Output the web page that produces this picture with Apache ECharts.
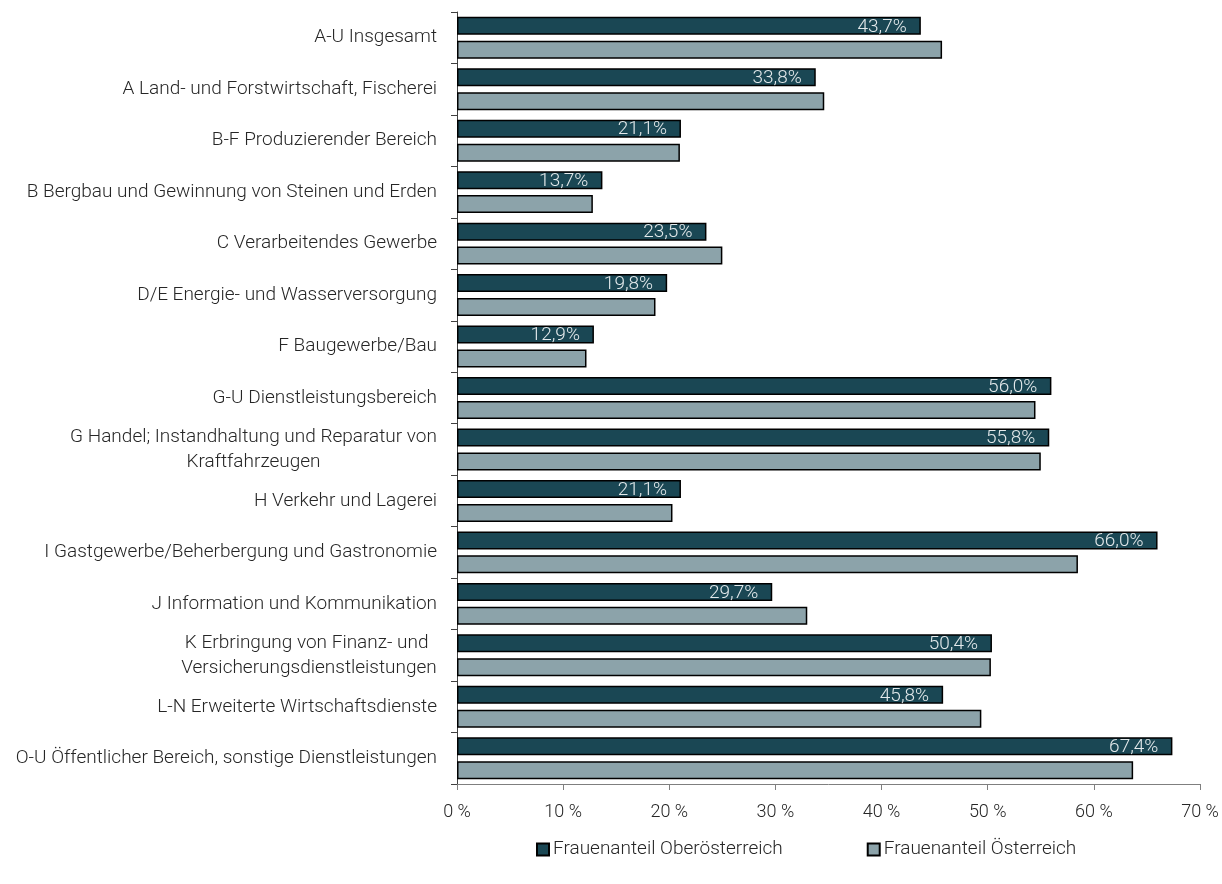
<!DOCTYPE html>
<html>
<head>
<meta charset="utf-8">
<script src="https://cdn.jsdelivr.net/npm/echarts@6/dist/echarts.min.js"></script>
<style>html,body{margin:0;padding:0;background:#fff}#c{width:1222px;height:884px}</style>
</head>
<body>
<div id="c"></div>
<script>
const categories = [
  "A-U Insgesamt",
  "A Land- und Forstwirtschaft, Fischerei",
  "B-F Produzierender Bereich",
  "B Bergbau und Gewinnung von Steinen und Erden",
  "C Verarbeitendes Gewerbe",
  "D/E Energie- und Wasserversorgung",
  "F Baugewerbe/Bau",
  "G-U Dienstleistungsbereich",
  "G Handel; Instandhaltung und Reparatur von\nKraftfahrzeugen",
  "H Verkehr und Lagerei",
  "I Gastgewerbe/Beherbergung und Gastronomie",
  "J Information und Kommunikation",
  "K Erbringung von Finanz- und \nVersicherungsdienstleistungen",
  "L-N Erweiterte Wirtschaftsdienste",
  "O-U Öffentlicher Bereich, sonstige Dienstleistungen"
];
const seriesNames = ["Frauenanteil Oberösterreich", "Frauenanteil Österreich"];
const ooeValues = [43.7, 33.8, 21.1, 13.7, 23.5, 19.8, 12.9, 56.0, 55.8, 21.1, 66.0, 29.7, 50.4, 45.8, 67.4];
const oeValues  = [45.7, 34.6, 21.0, 12.8, 25.0, 18.7, 12.2, 54.5, 55.0, 20.3, 58.5, 33.0, 50.3, 49.4, 63.7];
const xTicks = [0, 10, 20, 30, 40, 50, 60, 70];

const FONT = 'Roboto';
const FS = 19;
const TXT = '#262626';

// measure text to center multi-line category labels like the original
const ctx = document.createElement('canvas').getContext('2d');
ctx.font = '300 ' + FS + 'px ' + FONT;
function lineWidth(s) { return Math.ceil(ctx.measureText(s).width); }

const chart = echarts.init(document.getElementById('c'), null, {renderer: 'canvas'});
chart.setOption({
  animation: false,
  backgroundColor: '#ffffff',
  textStyle: {fontFamily: FONT, fontWeight: 300},
  grid: {left: 457, right: 22, top: 12, bottom: 100, containLabel: false},
  legend: {
    data: seriesNames,
    top: 835,
    left: 531,
    icon: 'rect',
    itemWidth: 12,
    itemHeight: 12,
    itemGap: 84,
    textStyle: {fontFamily: FONT, fontWeight: 300, fontSize: 19, color: TXT, padding: [0, 0, 0, -1]}
  },
  xAxis: {
    type: 'value',
    min: xTicks[0],
    max: xTicks[xTicks.length - 1],
    interval: 10,
    splitLine: {show: false},
    axisLine: {show: true, lineStyle: {color: '#7f7f7f', width: 1}},
    axisTick: {show: true, length: 6, lineStyle: {color: '#7f7f7f'}},
    axisLabel: {
      margin: 19,
      fontFamily: FONT, fontWeight: 300, fontSize: 18, color: TXT,
      formatter: v => v + ' %'
    }
  },
  yAxis: {
    type: 'category',
    data: categories,
    inverse: true,
    axisLine: {show: true, lineStyle: {color: '#404040', width: 1}},
    axisTick: {show: true, length: 6, lineStyle: {color: '#404040'}},
    axisLabel: {
      margin: 20,
      fontFamily: FONT, fontWeight: 300, fontSize: FS, color: TXT,
      lineHeight: 25,
      formatter: function (v) {
        if (v.indexOf('\n') >= 0) {
          const lines = v.split('\n');
          const w = Math.max.apply(null, lines.map(lineWidth));
          return lines.map(s => '{c' + w + '|' + s + '}').join('\n');
        }
        return v;
      },
      rich: (function () {
        const r = {};
        categories.filter(c => c.indexOf('\n') >= 0).forEach(c => {
          const w = Math.max.apply(null, c.split('\n').map(lineWidth));
          r['c' + w] = {width: w, align: 'center', fontFamily: FONT, fontWeight: 300, fontSize: FS, color: TXT, lineHeight: 25};
        });
        return r;
      })()
    }
  },
  series: [
    {
      name: seriesNames[0],
      type: 'bar',
      data: ooeValues,
      barWidth: 18,
      barGap: '33%',
      itemStyle: {color: '#1a4754', borderColor: '#000000', borderWidth: 1.5},
      label: {
        show: true,
        position: 'insideRight',
        distance: 14,
        offset: [0, 1],
        fontFamily: FONT, fontWeight: 300, fontSize: 19, color: '#e3e9eb',
        formatter: p => p.value.toFixed(1).replace('.', ',') + '%'
      }
    },
    {
      name: seriesNames[1],
      type: 'bar',
      data: oeValues,
      barWidth: 18,
      barGap: '33%',
      itemStyle: {color: '#8ca3aa', borderColor: '#000000', borderWidth: 1.5}
    }
  ]
});
</script>
</body>
</html>
